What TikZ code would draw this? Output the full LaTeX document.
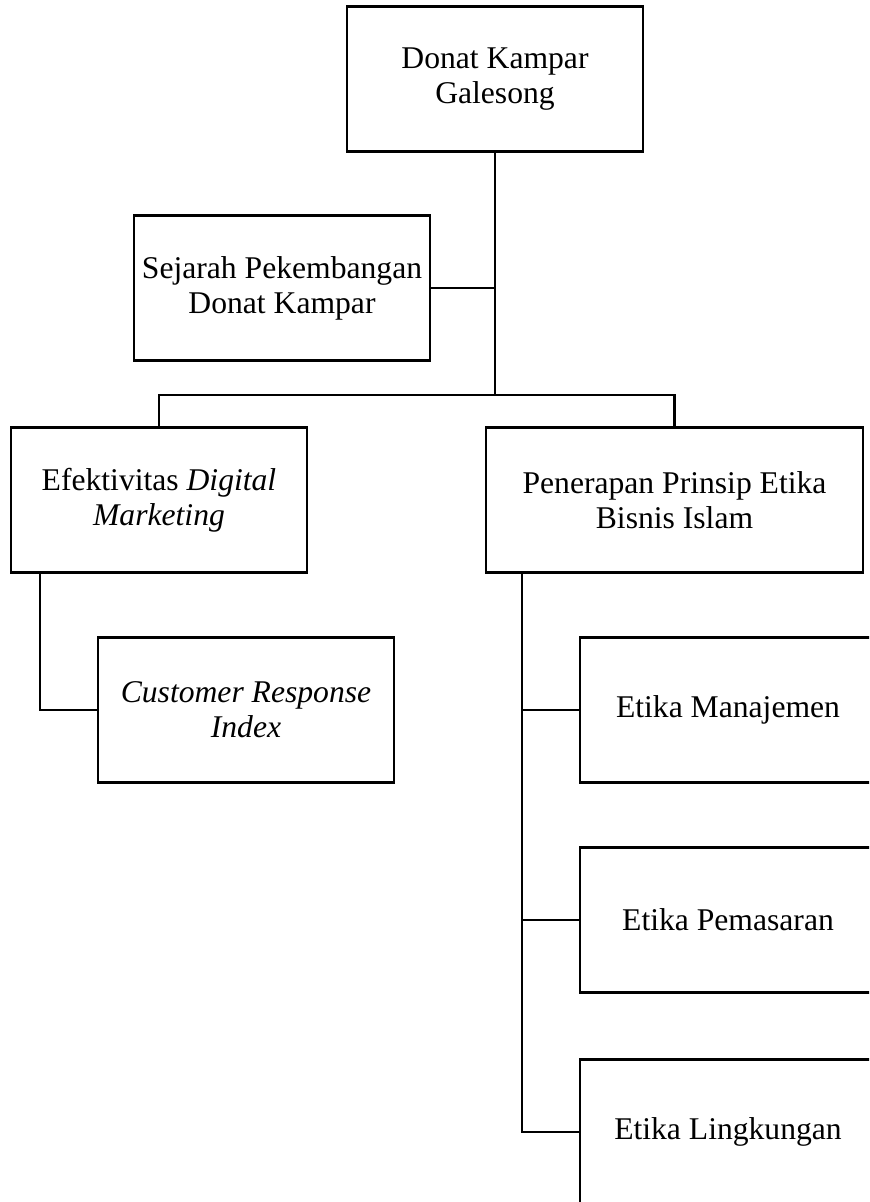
\documentclass[tikz,border=0pt]{standalone}
\usepackage{fontspec}
\setmainfont{Liberation Serif}
\begin{document}
\begin{tikzpicture}[x=0.02cm,y=-0.02cm,
    kotak/.style={draw,line width=1.6pt,minimum width=5.92cm,minimum height=2.9cm,
      align=center,inner sep=0pt,font=\fontsize{18}{20}\selectfont},
    garis/.style={line width=1.6pt}]
        \clip (0,0) rectangle (869,1202);
        \node[kotak] (donat) at (495,79) {Donat Kampar\\Galesong};
        \node[kotak] (sejarah) at (282,288) {Sejarah Pekembangan\\Donat Kampar};
        \node[kotak] (efektif) at (159,500) {Efektivitas \textit{Digital}\\\textit{Marketing}};
        \node[kotak,minimum width=7.54cm] (penerapan) at (674.5,500) {Penerapan Prinsip Etika\\Bisnis Islam};
        \node[kotak] (customer) at (246,710) {\textit{Customer Response}\\\textit{Index}};
        \node[kotak] (manajemen) at (728,710) {Etika Manajemen};
        \node[kotak] (pemasaran) at (728,920) {Etika Pemasaran};
        \node[kotak] (lingkungan) at (728,1132) {Etika Lingkungan};
        \coordinate (bus) at (495,395);
        \coordinate (cabang1) at (40,573);
        \coordinate (cabang2) at (522,573);
        \draw[garis] (donat.south) -- (bus);
        \draw[garis] (sejarah.east) -- (sejarah.east -| donat.south);
        \draw[garis] (efektif.north) |- (bus) -| (penerapan.north);
        \draw[garis] (cabang1) |- (customer.west);
        \draw[garis] (cabang2) |- (manajemen.west);
        \draw[garis] (cabang2) |- (pemasaran.west);
        \draw[garis] (cabang2) |- (lingkungan.west);
    \end{tikzpicture}
\end{document}
